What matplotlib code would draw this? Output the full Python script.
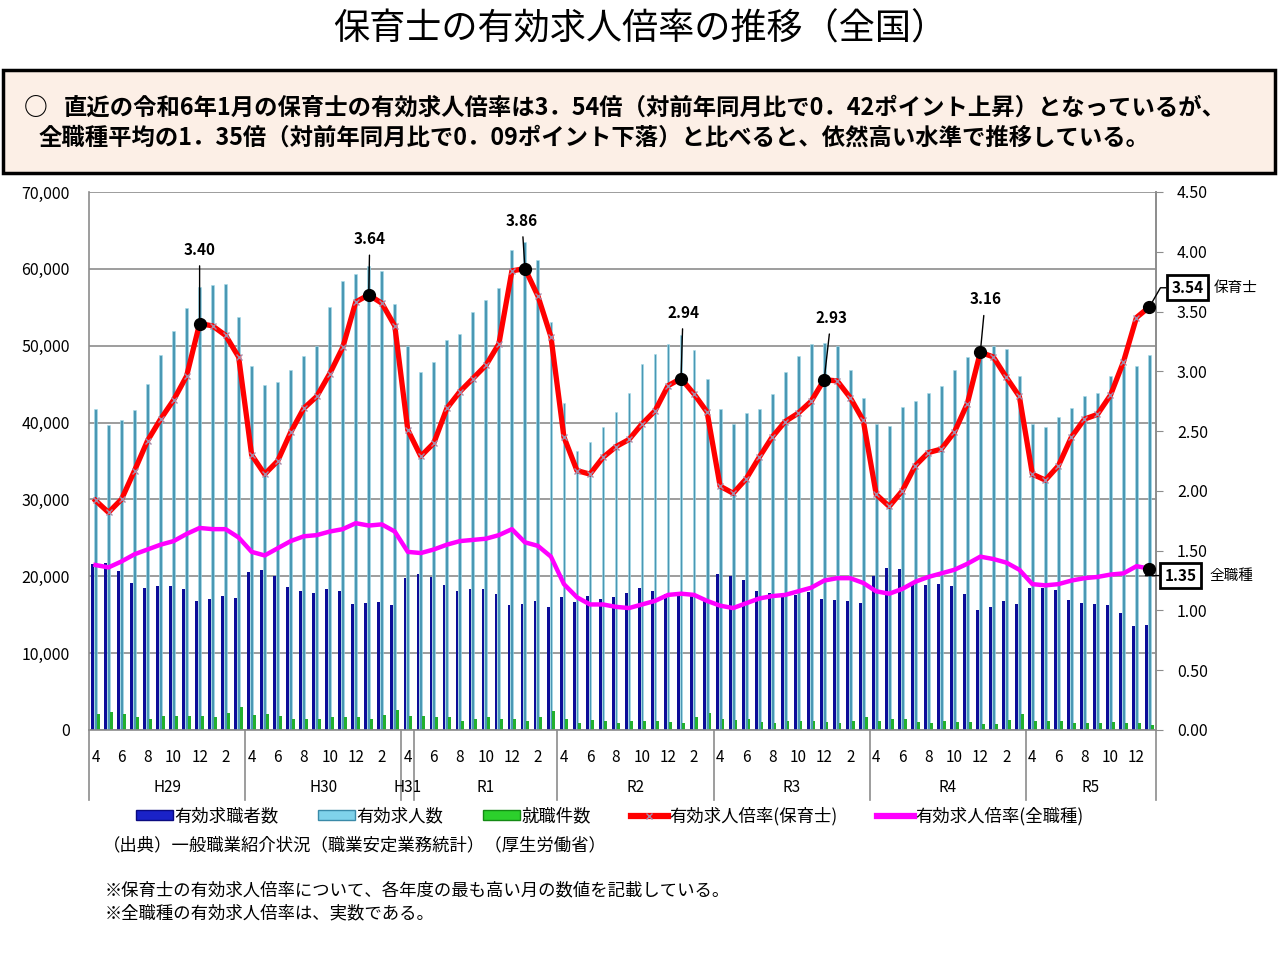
import matplotlib
matplotlib.use('Agg')
import matplotlib.pyplot as plt
import matplotlib.transforms as mtransforms
import numpy as np
from matplotlib.patches import Rectangle, Patch
from matplotlib.lines import Line2D

plt.rcParams['font.family'] = ['Noto Sans CJK JP', 'DejaVu Sans']

# monthly data, April H29 (2017) .. January R6 (2024)
seekers = [21610, 21750, 20680, 19140, 18490, 18730, 18730, 18360, 16820, 17050, 17470, 17190,
           20540, 20820, 20070, 18590, 18030, 17800, 18400, 18120, 16450, 16540, 16640, 16310,
           19750, 20310, 19890, 18820, 18120, 18360, 18310, 17750, 16260, 16360, 16730, 16030,
           17330, 16640, 17430, 17100, 17330, 17890, 18490, 18120, 17660, 17430, 17430, 17190,
           20350, 19980, 19520, 18120, 17800, 17500, 17560, 17980, 17100, 16960, 16730, 16500,
           20070, 21140, 21000, 19280, 18820, 19050, 18680, 17660, 15570, 15940, 16730, 16400,
           18490, 18490, 18260, 16960, 16500, 16400, 16260, 15190, 13570, 13710]
offers = [41820, 39680, 40290, 41590, 44980, 48750, 51950, 54930, 57620, 57950, 58040, 53720,
          47300, 44840, 45260, 46840, 48700, 49910, 55070, 58460, 59390, 60410, 59670, 55390,
          49950, 46610, 47860, 50790, 51580, 54370, 56000, 57480, 62500, 63430, 61110, 53070,
          42520, 36250, 37500, 39410, 41360, 43820, 47630, 48980, 50190, 51350, 49440, 45730,
          41730, 39820, 41260, 41730, 43680, 46560, 48610, 50190, 50330, 49910, 46840, 43220,
          39820, 39500, 42010, 42840, 43910, 44750, 46840, 48470, 48930, 49950, 49580, 46000,
          39820, 39360, 40750, 41910, 43450, 43910, 46000, 47300, 47300, 48790]
hires = [2090, 2320, 2140, 1630, 1490, 1770, 1860, 1860, 1860, 1630, 2180, 2930,
         2000, 2090, 1770, 1490, 1390, 1390, 1630, 1630, 1630, 1490, 2000, 2560,
         1860, 1860, 1630, 1630, 1160, 1490, 1630, 1490, 1490, 1160, 1630, 2420,
         1490, 930, 1300, 1210, 930, 1160, 1160, 1160, 1070, 930, 1630, 2230,
         1490, 1300, 1390, 1020, 930, 1160, 1160, 1160, 1020, 930, 1160, 1720,
         1160, 1390, 1390, 1020, 930, 1160, 1020, 1020, 840, 790, 1300, 2090,
         1160, 1160, 1160, 930, 930, 930, 1070, 930, 930, 700]
ratio_hoiku = [1.92, 1.82, 1.93, 2.17, 2.42, 2.60, 2.76, 2.96, 3.40, 3.38, 3.30, 3.12,
               2.30, 2.14, 2.25, 2.49, 2.69, 2.79, 2.98, 3.20, 3.58, 3.64, 3.57, 3.38,
               2.51, 2.29, 2.40, 2.69, 2.83, 2.94, 3.05, 3.23, 3.84, 3.86, 3.63, 3.29,
               2.45, 2.17, 2.14, 2.28, 2.37, 2.43, 2.56, 2.67, 2.88, 2.94, 2.81, 2.66,
               2.04, 1.98, 2.10, 2.28, 2.45, 2.58, 2.65, 2.75, 2.93, 2.92, 2.78, 2.59,
               1.97, 1.87, 2.00, 2.21, 2.32, 2.35, 2.49, 2.73, 3.16, 3.12, 2.95, 2.79,
               2.14, 2.09, 2.21, 2.45, 2.60, 2.64, 2.80, 3.08, 3.45, 3.54]
ratio_all = [1.38, 1.36, 1.41, 1.47, 1.51, 1.55, 1.58, 1.64, 1.69, 1.68, 1.68, 1.61,
             1.49, 1.46, 1.52, 1.58, 1.62, 1.63, 1.66, 1.68, 1.73, 1.71, 1.72, 1.66,
             1.49, 1.48, 1.51, 1.55, 1.58, 1.59, 1.60, 1.63, 1.68, 1.57, 1.54, 1.45,
             1.22, 1.11, 1.05, 1.05, 1.03, 1.02, 1.05, 1.08, 1.13, 1.14, 1.13, 1.08,
             1.04, 1.02, 1.06, 1.10, 1.12, 1.13, 1.16, 1.19, 1.25, 1.27, 1.27, 1.23,
             1.16, 1.14, 1.18, 1.24, 1.28, 1.31, 1.34, 1.39, 1.45, 1.43, 1.40, 1.34,
             1.22, 1.21, 1.22, 1.25, 1.27, 1.28, 1.30, 1.31, 1.37, 1.35]
fy_labels = ['H29', 'H30', 'H31', 'R1', 'R2', 'R3', 'R4', 'R5']
fy_lengths = [12, 12, 1, 11, 12, 12, 12, 10]
shown_months = [4, 6, 8, 10, 12, 2]
peak_idx = [8, 21, 33, 45, 56, 68]

GRAY = '#8c8c8c'
n = len(seekers)
x = np.arange(n)
months = [(3 + i) % 12 + 1 for i in x]

fig = plt.figure(figsize=(12.8, 9.61), dpi=100)
W, H = 1280, 961

# title and summary box
fig.text(0.5, 1 - 30 / H, '保育士の有効求人倍率の推移（全国）', ha='center', va='center', fontsize=26)
fig.add_artist(Rectangle((3 / W, 1 - 173 / H), 1272 / W, 103 / H, transform=fig.transFigure,
                         facecolor='#fcefe6', edgecolor='black', lw=2.5))
fig.text(24 / W, 1 - 108 / H, '○', va='center', fontsize=17, fontweight='bold')
fig.text(64 / W, 1 - 108 / H,
         '直近の令和6年1月の保育士の有効求人倍率は3．54倍（対前年同月比で0．42ポイント上昇）となっているが、',
         va='center', fontsize=16.8, fontweight='bold')
fig.text(39 / W, 1 - 138 / H,
         '全職種平均の1．35倍（対前年同月比で0．09ポイント下落）と比べると、依然高い水準で推移している。',
         va='center', fontsize=16.8, fontweight='bold')

ax = fig.add_axes([89 / W, 1 - 730 / H, (1156 - 89) / W, 538 / H])
w = 0.22
ax.bar(x - w, seekers, width=w, color='#0c0c98', zorder=2)
ax.bar(x, offers, width=w, color='#4a98b4', edgecolor='#a6dcea', linewidth=0.4, zorder=2)
ax.bar(x + w, hires, width=w, color='#22b02e', zorder=2)

ax.set_xlim(-0.5, n - 0.5)
ax.set_ylim(0, 70000)
ax.set_yticks(np.arange(0, 70001, 10000))
ax.set_yticklabels([f'{v:,}' for v in range(0, 70001, 10000)])
ax.yaxis.grid(True, color=GRAY, lw=1.2)
ax.set_axisbelow(True)
ax.tick_params(axis='y', length=0, pad=14, labelsize=11.5)
for s in ['left', 'right', 'bottom']:
    ax.spines[s].set_color(GRAY)
    ax.spines[s].set_linewidth(1.2)
ax.spines['top'].set_visible(False)

tick_pos = [i for i in x if months[i] in shown_months]
ax.set_xticks(tick_pos)
ax.set_xticklabels([str(months[i]) for i in tick_pos])
ax.tick_params(axis='x', length=0, pad=14, labelsize=11)

# fiscal year separators and labels
trans = mtransforms.blended_transform_factory(ax.transData, ax.transAxes)
edges = np.concatenate([[0], np.cumsum(fy_lengths)]) - 0.5
for e in edges:
    ax.plot([e, e], [0, -70 / 538], color=GRAY, lw=1.2, transform=trans, clip_on=False)
for lab, a, b in zip(fy_labels, edges[:-1], edges[1:]):
    ax.text((a + b) / 2, -58 / 538, lab, transform=trans, ha='center', va='center', fontsize=11)

ax2 = ax.twinx()
ax2.set_ylim(0, 4.5)
ax2.set_yticks(np.arange(0, 4.51, 0.5))
ax2.set_yticklabels([f'{v:.2f}' for v in np.arange(0, 4.51, 0.5)])
ax2.tick_params(axis='y', length=5, color=GRAY, pad=10, labelsize=11.5)
for s in ['top', 'left', 'bottom']:
    ax2.spines[s].set_visible(False)
ax2.spines['right'].set_color(GRAY)
ax2.spines['right'].set_linewidth(1.2)

ax2.plot(x, ratio_all, color='#ff00ff', lw=3.2, zorder=3)
ax2.plot(x, ratio_hoiku, color='#ff0000', lw=3.8, marker='x', ms=4, mec='#a48aa8', mew=1, zorder=4)

# yearly peak annotations
offsets = [(0, 74), (1, 56), (-3, 48), (2, 66), (7, 62), (5, 53)]
for i, (dx, dy) in zip(peak_idx, offsets):
    ax2.plot(i, ratio_hoiku[i], 'o', color='black', ms=8.5, zorder=6)
    ax2.annotate(f'{ratio_hoiku[i]:.2f}', xy=(i, ratio_hoiku[i]), xytext=(dx, dy),
                 textcoords='offset pixels', ha='center', va='center', fontsize=11,
                 fontweight='bold', arrowprops=dict(arrowstyle='-', color='black', lw=1,
                                                   shrinkA=4, shrinkB=0), zorder=6)

# latest values
last = n - 1
for vals, name, (dx, dy), ndx in [(ratio_hoiku, '保育士', (38, 19), 64),
                                   (ratio_all, '全職種', (31, -7), 60)]:
    ax2.plot(last, vals[last], 'o', color='black', ms=8.5, zorder=6, clip_on=False)
    ax2.annotate(f'{vals[last]:.2f}', xy=(last, vals[last]), xytext=(dx, dy),
                 textcoords='offset pixels', ha='center', va='center', fontsize=11,
                 fontweight='bold', annotation_clip=False,
                 bbox=dict(boxstyle='square,pad=0.3', fc='white', ec='black', lw=2),
                 arrowprops=dict(arrowstyle='-', color='black', lw=1, shrinkA=0, shrinkB=0,
                                 connectionstyle='angle,angleA=0,angleB=60,rad=0'))
    ax2.annotate(name, xy=(last, vals[last]), xytext=(ndx, dy), textcoords='offset pixels',
                 ha='left', va='center', fontsize=10.5, annotation_clip=False)

handles = [Patch(facecolor='#1a22c8', edgecolor='#0a0a80'),
           Patch(facecolor='#7fd2ea', edgecolor='#3a8aa8'),
           Patch(facecolor='#2cd02c', edgecolor='#138a13'),
           Line2D([], [], color='#ff0000', lw=4.5, marker='x', ms=4, mec='#a48aa8'),
           Line2D([], [], color='#ff00ff', lw=4.5)]
labels = ['有効求職者数', '有効求人数', '就職件数', '有効求人倍率(保育士)', '有効求人倍率(全職種)']
fig.legend(handles, labels, loc='center', bbox_to_anchor=(610 / W, 1 - 816 / H), ncol=5,
           frameon=False, fontsize=12.5, handlelength=2.1, handleheight=0.45,
           handletextpad=0.1, columnspacing=2.3)

fig.text(103 / W, 1 - 845 / H, '（出典）一般職業紹介状況（職業安定業務統計）（厚生労働省）',
         va='center', fontsize=12.5)
fig.text(105 / W, 1 - 890 / H, '※保育士の有効求人倍率について、各年度の最も高い月の数値を記載している。',
         va='center', fontsize=12.5)
fig.text(105 / W, 1 - 913 / H, '※全職種の有効求人倍率は、実数である。', va='center', fontsize=12.5)

fig.savefig('out.png', dpi=100)
